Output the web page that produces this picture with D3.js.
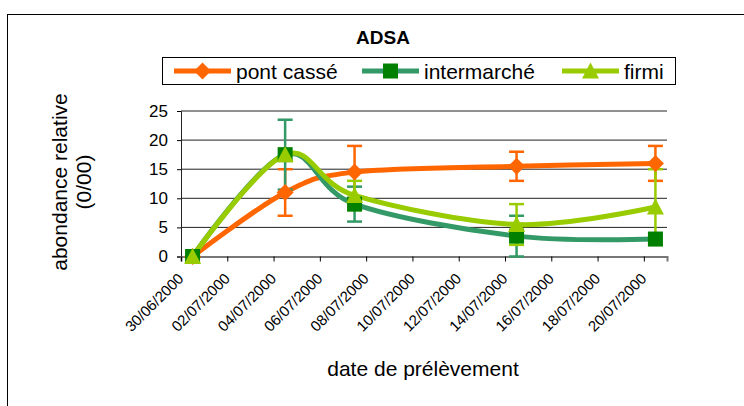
<!DOCTYPE html>
<html>
<head>
<meta charset="utf-8">
<script src="https://cdn.jsdelivr.net/npm/d3@7"></script>
<style>
  body { margin: 0; background: #fff; }
  text { font-family: Arial, "Liberation Sans", sans-serif; }
</style>
</head>
<body>
<svg id="chart"></svg>
<script>
// sampling dates and values
var dates = ["30/06/2000", "04/07/2000", "07/07/2000", "14/07/2000", "20/07/2000"];
var pontCasse = [0, 11, 14.5, 15.5, 16];
var pontCasseErr = [0, 4, 4.5, 2.5, 3];
var intermarche = [0, 17.5, 9, 3.5, 3];
var intermarcheErr = [0, 6, 3, 3.5, 0];
var firmi = [0, 17.5, 10.5, 5.5, 8.5];
var firmiErr = [0, 0, 2.5, 3.5, 6.5];
var yTicks = [0, 5, 10, 15, 20, 25];
var xTickLabels = ["30/06/2000", "02/07/2000", "04/07/2000", "06/07/2000", "08/07/2000",
  "10/07/2000", "12/07/2000", "14/07/2000", "16/07/2000", "18/07/2000", "20/07/2000"];
var xMax = "21/07/2000";

var parse = d3.timeParse("%d/%m/%Y");

var series = [
  {name: "pont cassé", values: pontCasse, err: pontCasseErr, line: "#FF6600", mark: "#FF6600", shape: "diamond"},
  {name: "intermarché", values: intermarche, err: intermarcheErr, line: "#339966", mark: "#008000", shape: "square"},
  {name: "firmi", values: firmi, err: firmiErr, line: "#99CC00", mark: "#99CC00", shape: "triangle"}
];

var W = 744, H = 406;
var margin = {top: 111, left: 181},
    width = 486,
    height = 145.5;

var svg = d3.select("#chart").attr("width", W).attr("height", H);

// outer chart border
svg.append("rect")
    .attr("x", 7.5).attr("y", 14.5)
    .attr("width", 760).attr("height", 420)
    .attr("fill", "none").attr("stroke", "#000").attr("stroke-width", 1);

svg.append("text")
    .attr("x", 383).attr("y", 44)
    .attr("text-anchor", "middle")
    .style("font-size", "19px").style("font-weight", "bold")
    .text("ADSA");

var x = d3.scaleTime()
    .domain([parse(xTickLabels[0]), parse(xMax)])
    .range([0, width]);

var y = d3.scaleLinear()
    .domain([0, 25])
    .range([height, 0]);

// points sit in the middle of their day
function px(i) { return x(d3.timeHour.offset(parse(dates[i]), 12)); }

var g = svg.append("g")
    .attr("transform", "translate(" + margin.left + "," + margin.top + ")");

// gridlines
g.selectAll(".grid")
    .data(yTicks.slice(1))
  .enter().append("line")
    .attr("x1", 0).attr("x2", width)
    .attr("y1", function(d) { return y(d); })
    .attr("y2", function(d) { return y(d); })
    .attr("stroke", "#222").attr("stroke-width", 1);

// y axis
var yAxis = g.append("g")
    .call(d3.axisLeft(y).tickValues(yTicks).tickSize(4).tickPadding(9));
yAxis.select(".domain").attr("stroke", "#222");
yAxis.selectAll("text").style("font-size", "17px").attr("fill", "#000");

// x axis
var xAxis = g.append("g")
    .attr("transform", "translate(0," + height + ")")
    .call(d3.axisBottom(x)
      .tickValues(xTickLabels.map(parse))
      .tickFormat(d3.timeFormat("%d/%m/%Y"))
      .tickSize(5));
xAxis.select(".domain").attr("stroke", "#777").attr("stroke-width", 2);
xAxis.selectAll("text")
    .style("font-size", "15px").attr("fill", "#000")
    .attr("text-anchor", "end")
    .attr("x", 0).attr("y", 0).attr("dy", 0)
    .attr("transform", "translate(3,23) rotate(-45)");

// smoothed lines
var line = d3.line()
    .x(function(d, i) { return px(i); })
    .y(function(d) { return y(d); })
    .curve(d3.curveCardinal.tension(0));

series.forEach(function(s) {
  g.append("path")
      .datum(s.values)
      .attr("d", line)
      .attr("fill", "none")
      .attr("stroke", s.line)
      .attr("stroke-width", 5)
      .attr("stroke-linejoin", "round");
});

// error bars
series.forEach(function(s) {
  var eb = g.append("g").attr("stroke", s.line).attr("stroke-width", 2.5);
  s.values.forEach(function(v, i) {
    var e = s.err[i];
    if (!e) return;
    var cx = px(i);
    eb.append("line").attr("x1", cx).attr("x2", cx).attr("y1", y(v + e)).attr("y2", y(v - e));
    [v + e, v - e].forEach(function(t) {
      eb.append("line").attr("x1", cx - 7.5).attr("x2", cx + 7.5).attr("y1", y(t)).attr("y2", y(t));
    });
  });
});

// markers
function marker(sel, shape, color, cx, cy) {
  if (shape === "diamond") {
    sel.append("path").attr("d", "M" + cx + "," + (cy - 8.5) + "L" + (cx + 8.5) + "," + cy + "L" + cx + "," + (cy + 8.5) + "L" + (cx - 8.5) + "," + cy + "Z").attr("fill", color);
  } else if (shape === "square") {
    sel.append("rect").attr("x", cx - 7.5).attr("y", cy - 7.5).attr("width", 15).attr("height", 15).attr("fill", color);
  } else {
    sel.append("path").attr("d", "M" + cx + "," + (cy - 8.5) + "L" + (cx + 8.5) + "," + (cy + 7.5) + "L" + (cx - 8.5) + "," + (cy + 7.5) + "Z").attr("fill", color);
  }
}

series.forEach(function(s) {
  s.values.forEach(function(v, i) { marker(g, s.shape, s.mark, px(i), y(v)); });
});

// y label
var yl = svg.append("text")
    .attr("transform", "translate(67,182) rotate(-90)")
    .attr("text-anchor", "middle")
    .style("font-size", "21px");
yl.append("tspan").attr("x", 0).attr("y", 0).text("abondance relative");
yl.append("tspan").attr("x", 0).attr("y", 24).text("(0/00)");

// x label
svg.append("text")
    .attr("x", 423).attr("y", 376)
    .attr("text-anchor", "middle")
    .style("font-size", "21px")
    .text("date de prélèvement");

// legend
var lg = svg.append("g");
lg.append("rect")
    .attr("x", 162.5).attr("y", 57.5).attr("width", 513).attr("height", 27)
    .attr("fill", "#fff").attr("stroke", "#000");
var legendX = [174, 362, 562];
series.forEach(function(s, i) {
  var lx = legendX[i];
  lg.append("line").attr("x1", lx).attr("x2", lx + 57).attr("y1", 71).attr("y2", 71)
      .attr("stroke", s.line).attr("stroke-width", 5);
  marker(lg, s.shape, s.mark, lx + 28.5, 71);
  lg.append("text").attr("x", lx + 62).attr("y", 78.5)
      .style("font-size", "21px").text(s.name);
});
</script>
</body>
</html>
